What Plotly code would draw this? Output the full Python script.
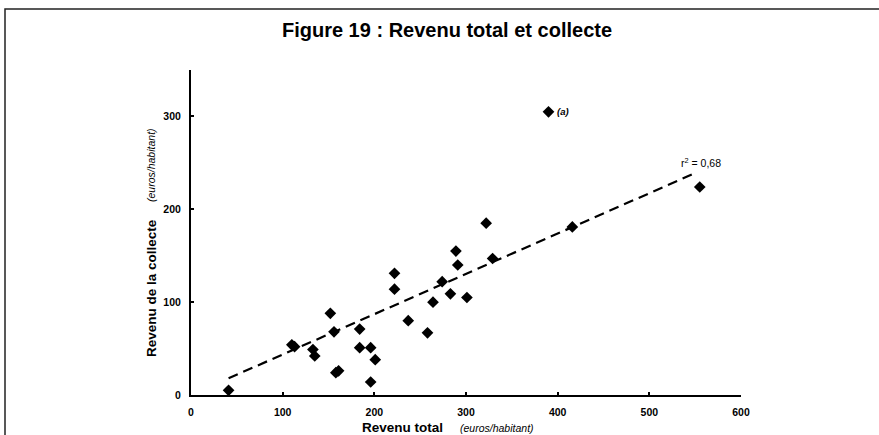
import plotly.graph_objects as go

# Data
revenu_total = [41, 110, 113, 133, 135, 152, 156, 158, 161, 184, 184, 196, 196, 201,
                222, 222, 237, 258, 264, 274, 283, 289, 291, 301, 322, 329, 390, 416, 555]
revenu_collecte = [5, 54, 52, 49, 42, 88, 68, 24, 26, 71, 51, 51, 14, 38,
                   131, 114, 80, 67, 100, 122, 109, 155, 140, 105, 185, 147, 305, 181, 224]
trend_x = [41, 550]
trend_y = [18, 239]
x_ticks = [0, 100, 200, 300, 400, 500, 600]
y_ticks = [0, 100, 200, 300]
outlier_x, outlier_y = 390, 305
r2_label = "r<sup>2</sup> = 0,68"

FONT = "Liberation Sans, Arial, sans-serif"

fig = go.Figure()
fig.add_trace(go.Scatter(
    x=trend_x, y=trend_y, mode="lines",
    line=dict(color="black", width=2.2, dash="10px,6px"),
    hoverinfo="skip", showlegend=False))
fig.add_trace(go.Scatter(
    x=revenu_total, y=revenu_collecte, mode="markers",
    marker=dict(symbol="diamond", size=9, color="black"),
    showlegend=False))

W, H = 550.0, 325.0  # plot area in px
def px_x(p):
    return (p - 191) / W
def px_y(p):
    return (395 - p) / H

fig.update_layout(
    width=879, height=435,
    margin=dict(l=191, r=138, t=70, b=40),
    paper_bgcolor="white", plot_bgcolor="white",
    font=dict(family=FONT, color="black"),
    title=dict(text="<b>Figure 19 : Revenu total et collecte</b>",
               x=447 / 879, xanchor="center", y=1 - 30 / 435, yanchor="middle",
               font=dict(size=20, family=FONT, color="black")),
)
fig.update_xaxes(
    range=[0, 600], tickvals=x_ticks, showgrid=False, zeroline=False,
    showline=True, linecolor="black", linewidth=2,
    ticks="inside", ticklen=3, tickwidth=2, tickcolor="black",
    tickfont=dict(size=10.5, family=FONT, color="black", weight="bold"),
    ticklabelstandoff=6)
fig.update_yaxes(
    range=[0, 350], tickvals=y_ticks, showgrid=False, zeroline=False,
    showline=True, linecolor="black", linewidth=2,
    ticks="inside", ticklen=3, tickwidth=2, tickcolor="black",
    tickfont=dict(size=10.5, family=FONT, color="black", weight="bold"),
    ticklabelstandoff=6)

annotations = [
    dict(text="<b>Revenu total</b>", x=px_x(402), y=px_y(427), xref="paper", yref="paper",
         showarrow=False, font=dict(size=13.5, family=FONT), xanchor="center", yanchor="middle"),
    dict(text="<i>(euros/habitant)</i>", x=px_x(497), y=px_y(428), xref="paper", yref="paper",
         showarrow=False, font=dict(size=10.5, family=FONT), xanchor="center", yanchor="middle"),
    dict(text="<b>Revenu de la collecte</b>", x=px_x(151), y=px_y(288), xref="paper", yref="paper",
         showarrow=False, textangle=-90, font=dict(size=13.5, family=FONT),
         xanchor="center", yanchor="middle"),
    dict(text="<i>(euros/habitant)</i>", x=px_x(151), y=px_y(165), xref="paper", yref="paper",
         showarrow=False, textangle=-90, font=dict(size=10.5, family=FONT),
         xanchor="center", yanchor="middle"),
    dict(text="<b><i>(a)</i></b>", x=outlier_x, y=outlier_y, xref="x", yref="y",
         showarrow=False, xshift=6, xanchor="left", yanchor="middle",
         font=dict(size=9.5, family=FONT)),
    dict(text=r2_label, x=trend_x[-1], y=trend_y[-1], xref="x", yref="y",
         showarrow=False, xshift=-16, yshift=11, xanchor="left", yanchor="middle",
         font=dict(size=10.5, family=FONT)),
]
fig.update_layout(annotations=annotations)

fig.add_shape(type="rect", xref="paper", yref="paper",
              x0=px_x(5), x1=px_x(885), y0=px_y(445), y1=px_y(9),
              line=dict(color="#222", width=1.5), fillcolor="rgba(0,0,0,0)", layer="below")

fig.write_html("out.html", config={"displayModeBar": False},
               post_script="document.body.style.margin='0';document.body.style.overflow='hidden';")
